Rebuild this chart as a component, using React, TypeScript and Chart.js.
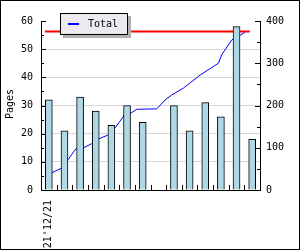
import React, { useEffect, useRef } from "react";
import { Chart, registerables } from "chart.js";

Chart.register(...registerables);

// ---- data ----
const categories = ["21'12/21", "", "", "", "", "", "", "", "", "", "", "", "", ""];
const pagesPerPeriod = [32, 21, 33, 28, 23, 30, 24, null, 30, 21, 31, 26, 58, 18];
// cumulative total (right axis), x in category units
const totalX = [0.2, 0.78, 1.19, 1.72, 2.17, 2.76, 3.19, 3.78, 4.21, 4.83, 5.24, 5.62, 6.9, 7.43, 7.86, 8.6, 9.67, 10.84, 11.05, 11.69, 12.54];
const totalY = [41, 51, 70, 97, 99, 110, 121, 130, 146, 177, 182, 191, 192, 213, 225, 241, 272, 300, 320, 355, 373];
// reference line (right axis)
const limitX = [-0.25, 12.85];
const limitY = [375, 375];
const leftMax = 60;
const rightMax = 400;
const legendLabel = "Total";
const yTitle = "Pages";

const FONT = "'DejaVu Sans Mono', monospace";

const decorPlugin = {
  id: "decor",
  afterDraw(chart: any) {
    const { ctx, chartArea, scales } = chart;
    const y = scales.y;
    const y1 = scales.y1;
    const x = scales.x;
    ctx.save();
    ctx.strokeStyle = "#000";
    ctx.lineWidth = 1;
    ctx.beginPath();
    for (let v = 0; v <= leftMax; v += 5) {
      const py = Math.round(y.getPixelForValue(v)) + 0.5;
      const len = v % 10 === 0 ? 5 : 3;
      ctx.moveTo(chartArea.left, py);
      ctx.lineTo(chartArea.left + len, py);
    }
    for (let v = 0; v <= rightMax; v += 50) {
      const py = Math.round(y1.getPixelForValue(v)) + 0.5;
      const len = v % 100 === 0 ? 5 : 3;
      ctx.moveTo(chartArea.right, py);
      ctx.lineTo(chartArea.right - len, py);
    }
    for (let i = 1; i < categories.length; i++) {
      const px = Math.round(x.getPixelForValue(i - 0.5)) + 0.5;
      ctx.moveTo(px, chartArea.bottom);
      ctx.lineTo(px, chartArea.bottom - 5);
    }
    ctx.stroke();

    // legend box
    const lx = 60, ly = 13, lw = 68, lh = 22;
    ctx.fillStyle = "#b0b0b0";
    ctx.fillRect(lx + 3, ly + 3, lw, lh);
    ctx.fillStyle = "#ece9f1";
    ctx.fillRect(lx, ly, lw, lh);
    ctx.strokeStyle = "#000";
    ctx.strokeRect(lx + 0.5, ly + 0.5, lw - 1, lh - 1);
    const ds = chart.data.datasets[1];
    ctx.strokeStyle = ds.borderColor;
    ctx.lineWidth = 2;
    ctx.beginPath();
    ctx.moveTo(lx + 8, ly + 11);
    ctx.lineTo(lx + 19, ly + 11);
    ctx.stroke();
    ctx.fillStyle = "#000";
    ctx.font = "10px " + FONT;
    ctx.textBaseline = "middle";
    ctx.textAlign = "left";
    ctx.fillText(legendLabel, lx + 28, ly + 11);

    // y title
    ctx.save();
    ctx.translate(10, 104);
    ctx.rotate(-Math.PI / 2);
    ctx.textAlign = "center";
    ctx.textBaseline = "middle";
    ctx.fillText(yTitle, 0, 0);
    ctx.restore();

    // outer frame
    ctx.strokeStyle = "#000";
    ctx.lineWidth = 1;
    ctx.strokeRect(0.5, 0.5, chart.width - 1, chart.height - 1);
    ctx.restore();
  },
};

export default function App() {
  const ref = useRef<HTMLCanvasElement>(null);
  useEffect(() => {
    document.body.style.margin = "0";
    const canvas = ref.current;
    if (!canvas) return;
    const chart = new Chart(canvas, {
      type: "bar",
      data: {
        datasets: [
          {
            type: "bar",
            label: "Pages",
            data: pagesPerPeriod.map((v, i) => ({ x: i, y: v })),
            backgroundColor: "#add8e6",
            borderColor: "#000",
            borderWidth: 1,
            barThickness: 7,
            xAxisID: "x",
            yAxisID: "y",
            order: 1,
          },
          {
            type: "line",
            label: legendLabel,
            data: totalX.map((v, i) => ({ x: v, y: totalY[i] })),
            borderColor: "#0000ff",
            borderWidth: 1,
            pointRadius: 0,
            tension: 0,
            fill: false,
            xAxisID: "x",
            yAxisID: "y1",
            order: 2,
          },
          {
            type: "line",
            label: "limit",
            data: limitX.map((v, i) => ({ x: v, y: limitY[i] })),
            borderColor: "#ff0000",
            borderWidth: 2,
            pointRadius: 0,
            fill: false,
            xAxisID: "x",
            yAxisID: "y1",
            order: 3,
          },
        ] as any,
      },
      options: {
        responsive: false,
        animation: false,
        devicePixelRatio: 1,
        layout: { padding: { top: 21, left: 0, right: 0, bottom: 0 } },
        plugins: { legend: { display: false }, tooltip: { enabled: false } },
        scales: {
          x: {
            type: "linear",
            position: "bottom",
            offset: false,
            min: -0.5,
            max: categories.length - 0.5,
            grid: { drawOnChartArea: false, drawTicks: false },
            border: { display: true, color: "#000", width: 1 },
            afterBuildTicks: (s: any) => {
              s.ticks = categories.map((_, i) => ({ value: i }));
            },
            ticks: {
              autoSkip: false,
              minRotation: 90,
              maxRotation: 90,
              padding: 10,
              color: "#000",
              font: { family: FONT, size: 10 },
              callback: (v: any) => categories[Math.round(v)] ?? "",
            },
            afterFit: (s: any) => {
              s.height = 60;
              s.paddingLeft = 0;
              s.paddingRight = 0;
            },
          },
          y: {
            type: "linear",
            position: "left",
            min: 0,
            max: leftMax,
            ticks: { stepSize: 10, padding: 8, color: "#000", font: { family: FONT, size: 10 } },
            grid: {
              drawTicks: false,
              color: (c: any) => (c.tick && (c.tick.value === 0 || c.tick.value === leftMax) ? "rgba(0,0,0,0)" : "#d8d8d8"),
            },
            border: { display: true, color: "#000", width: 1 },
            afterFit: (s: any) => {
              s.width = 41;
            },
          },
          y1: {
            type: "linear",
            position: "right",
            min: 0,
            max: rightMax,
            ticks: { stepSize: 100, padding: 6, color: "#000", font: { family: FONT, size: 10 } },
            grid: { drawOnChartArea: false, drawTicks: false },
            border: { display: true, color: "#000", width: 1 },
            afterFit: (s: any) => {
              s.width = 40;
            },
          },
        },
      } as any,
      plugins: [decorPlugin],
    });
    return () => chart.destroy();
  }, []);
  return <canvas ref={ref} width={300} height={250} style={{ display: "block", width: 300, height: 250 }} />;
}
